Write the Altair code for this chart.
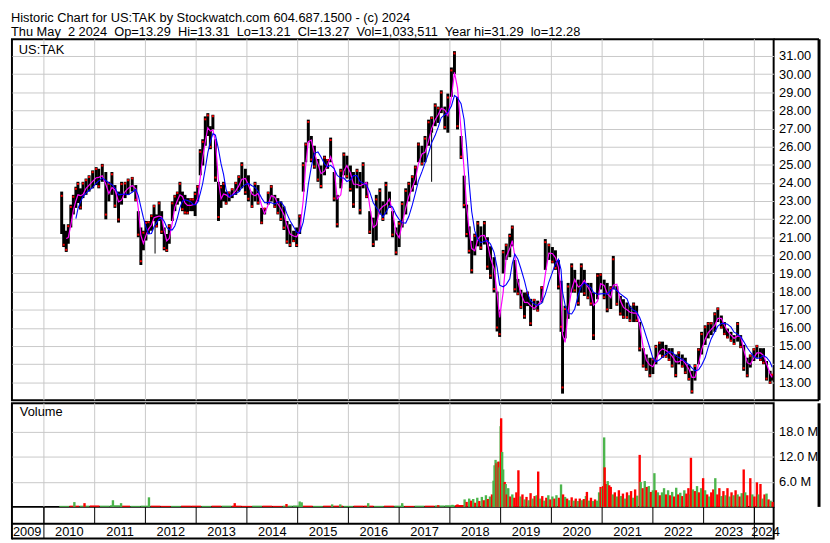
import altair as alt
import pandas as pd

# ---------------- data ----------------
t = [2010.35, 2010.39, 2010.44, 2010.48, 2010.53, 2010.58, 2010.63, 2010.67, 2010.72, 2010.77,
     2010.83, 2010.89, 2010.96, 2011.03, 2011.08, 2011.15, 2011.22, 2011.28, 2011.34, 2011.40,
     2011.47, 2011.53, 2011.60, 2011.66, 2011.74, 2011.81, 2011.86, 2011.91, 2011.96, 2012.01,
     2012.06, 2012.12, 2012.17, 2012.22, 2012.27, 2012.32, 2012.37, 2012.42, 2012.47, 2012.53,
     2012.58, 2012.63, 2012.68, 2012.73, 2012.78, 2012.83, 2012.89, 2012.94, 2012.98, 2013.03,
     2013.08, 2013.13, 2013.18, 2013.23, 2013.28, 2013.33, 2013.38, 2013.44, 2013.49, 2013.54,
     2013.59, 2013.65, 2013.71, 2013.78, 2013.84, 2013.90, 2013.97, 2014.03, 2014.10, 2014.16,
     2014.22, 2014.29, 2014.35, 2014.42, 2014.48, 2014.55, 2014.61, 2014.67, 2014.73, 2014.79,
     2014.85, 2014.92, 2014.98, 2015.04, 2015.11, 2015.16, 2015.21, 2015.27, 2015.33, 2015.40,
     2015.46, 2015.53, 2015.59, 2015.65, 2015.72, 2015.78, 2015.85, 2015.91, 2015.97, 2016.04,
     2016.10, 2016.17, 2016.23, 2016.29, 2016.36, 2016.42, 2016.49, 2016.55, 2016.62, 2016.68,
     2016.74, 2016.81, 2016.87, 2016.94, 2017.00, 2017.06, 2017.13, 2017.19, 2017.26, 2017.32,
     2017.38, 2017.45, 2017.51, 2017.58, 2017.64, 2017.71, 2017.77, 2017.83, 2017.90, 2017.96,
     2018.03, 2018.09, 2018.15, 2018.22, 2018.28, 2018.33, 2018.38, 2018.43, 2018.49, 2018.55,
     2018.61, 2018.68, 2018.74, 2018.80, 2018.87, 2018.93, 2018.98, 2019.05, 2019.11, 2019.18,
     2019.23, 2019.28, 2019.34, 2019.40, 2019.47, 2019.53, 2019.59, 2019.66, 2019.73, 2019.81,
     2019.88, 2019.95, 2020.02, 2020.08, 2020.14, 2020.19, 2020.22, 2020.27, 2020.33, 2020.40,
     2020.46, 2020.53, 2020.59, 2020.65, 2020.72, 2020.78, 2020.83, 2020.91, 2020.97, 2021.04,
     2021.10, 2021.17, 2021.22, 2021.29, 2021.36, 2021.42, 2021.49, 2021.55, 2021.62, 2021.68,
     2021.74, 2021.81, 2021.87, 2021.94, 2022.00, 2022.06, 2022.13, 2022.19, 2022.26, 2022.32,
     2022.38, 2022.45, 2022.51, 2022.58, 2022.64, 2022.71, 2022.77, 2022.83, 2022.90, 2022.96,
     2023.03, 2023.09, 2023.15, 2023.22, 2023.28, 2023.35, 2023.41, 2023.47, 2023.54, 2023.60,
     2023.67, 2023.73, 2023.79, 2023.86, 2023.92, 2023.99, 2024.05, 2024.12, 2024.18, 2024.24,
     2024.31, 2024.35]

hi = [23.52, 21.72, 21.36, 21.72, 22.80, 23.34, 23.79, 24.06, 23.70, 24.06,
      24.24, 24.42, 24.69, 24.87, 24.78, 25.05, 24.60, 24.06, 24.60, 23.88,
      23.52, 24.06, 24.06, 24.24, 24.33, 23.88, 22.44, 21.54, 21.36, 21.90,
      21.90, 22.26, 22.80, 22.26, 22.98, 22.44, 21.54, 21.18, 21.72, 22.98,
      23.34, 23.52, 24.06, 23.52, 23.34, 23.16, 23.16, 23.16, 23.52, 23.88,
      25.86, 26.41, 27.67, 27.85, 27.13, 27.76, 26.41, 24.06, 23.88, 24.06,
      23.52, 23.52, 23.70, 24.06, 24.42, 25.14, 24.78, 24.42, 23.52, 24.06,
      23.88, 22.62, 22.62, 23.52, 23.88, 23.34, 23.16, 22.98, 22.70, 21.90,
      21.72, 21.36, 21.54, 22.26, 25.14, 26.23, 27.49, 26.59, 26.05, 25.32,
      24.96, 25.50, 25.32, 26.50, 24.60, 23.34, 24.78, 25.68, 25.50, 24.96,
      24.60, 24.78, 24.60, 25.14, 24.06, 22.44, 22.08, 23.34, 23.70, 22.98,
      24.06, 23.52, 22.44, 21.54, 21.90, 22.98, 23.70, 24.06, 24.42, 24.96,
      26.23, 26.05, 26.59, 27.49, 27.67, 28.39, 28.21, 29.11, 28.21, 28.93,
      30.37, 31.27, 28.75, 26.59, 24.40, 22.80, 21.60, 20.80, 21.20, 21.90,
      21.60, 21.90, 21.00, 20.50, 19.90, 18.00, 17.00, 20.30, 20.65, 21.20,
      21.65, 19.75, 18.70, 18.10, 17.95, 18.00, 17.60, 17.60, 17.50, 18.30,
      20.90, 20.65, 20.46, 20.28, 19.74, 18.60, 15.78, 17.22, 18.48, 19.56,
      19.20, 18.66, 19.56, 19.20, 18.48, 18.48, 17.94, 19.02, 19.02, 18.66,
      18.48, 18.30, 19.97, 18.30, 17.76, 17.58, 17.40, 17.22, 17.40, 17.22,
      16.32, 14.88, 14.53, 14.35, 14.35, 15.06, 15.24, 15.24, 15.06, 14.88,
      14.88, 14.53, 14.70, 14.53, 14.35, 13.99, 13.63, 13.99, 14.88, 15.78,
      16.14, 16.32, 16.32, 16.86, 17.13, 16.68, 16.32, 15.96, 15.78, 15.60,
      16.32, 15.60, 15.06, 14.35, 14.53, 14.88, 15.06, 14.88, 14.88, 14.17,
      13.63, 13.45]

lo = [21.18, 20.46, 20.19, 20.64, 21.54, 22.26, 22.62, 22.89, 22.53, 23.16,
      23.34, 23.52, 23.70, 23.88, 23.70, 24.06, 21.99, 22.98, 23.34, 22.62,
      21.81, 22.80, 23.16, 23.34, 23.52, 22.98, 21.00, 19.47, 20.28, 20.82,
      21.18, 21.36, 21.90, 21.54, 21.90, 21.18, 20.28, 20.19, 20.64, 21.90,
      22.44, 22.80, 22.98, 22.44, 22.26, 22.26, 22.44, 22.44, 22.17, 22.98,
      24.42, 24.96, 26.05, 26.59, 25.86, 26.95, 24.06, 21.90, 22.62, 22.98,
      22.80, 22.98, 23.16, 23.34, 23.52, 23.70, 23.34, 22.98, 22.62, 22.98,
      22.80, 21.72, 22.26, 22.80, 22.98, 22.62, 22.26, 21.90, 21.40, 20.64,
      20.46, 20.73, 20.46, 21.18, 23.52, 25.14, 26.23, 25.14, 24.78, 24.06,
      23.70, 24.42, 24.78, 25.14, 22.98, 21.54, 23.70, 24.42, 24.24, 23.52,
      22.62, 23.70, 22.26, 23.70, 23.16, 21.18, 20.46, 20.82, 22.26, 21.90,
      22.26, 22.62, 21.00, 20.01, 20.46, 21.54, 22.26, 22.98, 23.52, 23.88,
      25.14, 24.96, 25.14, 26.05, 26.77, 27.13, 27.31, 27.85, 26.95, 26.77,
      28.75, 30.01, 26.95, 25.32, 22.60, 21.00, 20.10, 19.00, 20.00, 20.50,
      20.30, 20.60, 19.20, 18.70, 17.95, 15.80, 15.50, 19.00, 19.75, 19.90,
      20.50, 17.95, 17.80, 17.05, 16.50, 17.20, 16.10, 17.00, 16.90, 17.40,
      19.20, 19.75, 19.56, 19.20, 18.12, 15.78, 12.37, 15.42, 16.50, 17.94,
      17.94, 17.22, 17.94, 17.76, 17.58, 17.22, 15.33, 17.58, 18.12, 17.58,
      16.86, 17.04, 18.12, 17.22, 16.68, 16.50, 16.50, 16.32, 16.32, 16.32,
      14.70, 13.81, 13.63, 13.27, 13.45, 13.99, 14.53, 14.35, 14.35, 14.17,
      13.81, 13.27, 13.99, 13.81, 13.45, 13.09, 12.37, 13.09, 13.99, 14.53,
      15.06, 15.42, 15.60, 15.78, 16.32, 15.96, 15.60, 15.42, 15.24, 15.06,
      15.24, 14.88, 13.63, 13.27, 13.81, 14.17, 14.35, 14.17, 13.99, 13.09,
      12.91, 13.09]

spike_t = [2012.19, 2017.64]
spike_hi = [22.26, 26.77]
spike_lo = [20.10, 24.06]

# daily-volume envelope, millions (1 = up day, 0 = down day)
vol_t = [2010.60, 2010.80, 2011.36, 2011.52, 2012.07, 2013.76, 2014.78, 2015.04, 2015.08, 2015.68,
         2015.84, 2016.39, 2017.06, 2017.77, 2018.05, 2018.15,
         2018.29, 2018.33, 2018.38, 2018.42, 2018.46, 2018.50, 2018.54, 2018.58, 2018.63, 2018.67,
         2018.71, 2018.75, 2018.79, 2018.83, 2018.86, 2018.88, 2018.90, 2018.92, 2018.94, 2018.96,
         2018.98, 2019.00, 2019.01, 2019.03, 2019.05, 2019.08, 2019.10, 2019.12, 2019.15, 2019.19,
         2019.23, 2019.27, 2019.31, 2019.35, 2019.39, 2019.43, 2019.47, 2019.51, 2019.55, 2019.59,
         2019.63, 2019.67, 2019.71, 2019.74, 2019.78, 2019.82, 2019.86, 2019.90, 2019.94, 2019.98,
         2020.02, 2020.06, 2020.10, 2020.15, 2020.19, 2020.23, 2020.27, 2020.31, 2020.35, 2020.40,
         2020.44, 2020.48, 2020.52, 2020.56, 2020.60, 2020.64, 2020.68, 2020.70, 2020.74, 2020.78,
         2020.82, 2020.86, 2020.90, 2020.94, 2020.97, 2021.00, 2021.02, 2021.04, 2021.05, 2021.08,
         2021.11, 2021.14, 2021.17, 2021.21, 2021.25, 2021.29, 2021.33, 2021.37, 2021.41, 2021.45,
         2021.49, 2021.53, 2021.57, 2021.61, 2021.65, 2021.69, 2021.74, 2021.76, 2021.80, 2021.84,
         2021.88, 2021.92, 2021.96, 2022.00, 2022.03, 2022.06, 2022.10, 2022.14, 2022.18, 2022.22,
         2022.26, 2022.30, 2022.34, 2022.38, 2022.42, 2022.46, 2022.50, 2022.54, 2022.58, 2022.62,
         2022.66, 2022.70, 2022.73, 2022.75, 2022.79, 2022.83, 2022.87, 2022.91, 2022.95, 2022.99,
         2023.03, 2023.07, 2023.11, 2023.15, 2023.19, 2023.23, 2023.27, 2023.31, 2023.35, 2023.39,
         2023.43, 2023.47, 2023.51, 2023.55, 2023.59, 2023.63, 2023.67, 2023.71, 2023.75, 2023.79,
         2023.82, 2023.86, 2023.92, 2023.96, 2024.00, 2024.05, 2024.08, 2024.12, 2024.16, 2024.20,
         2024.24, 2024.28, 2024.32, 2024.36]
vol_m = [1.15, 0.9, 1.6, 0.9, 2.3, 0.9, 0.7, 1.3, 1.1, 0.6,
         0.6, 0.9, 0.9, 0.4, 0.5, 0.6,
         1.8, 1.2, 2.0, 1.5, 1.9, 1.0, 2.2, 1.4, 2.4, 1.6,
         2.8, 1.9, 2.5, 3.0, 6.3, 10.0, 11.3, 10.5, 10.8, 10.9,
         9.5, 19.4, 21.3, 13.2, 9.0, 6.0, 5.5, 3.0, 4.5, 2.5,
         3.0, 2.2, 3.5, 8.8, 2.5, 3.0, 1.8, 2.4, 1.6, 3.3,
         2.0, 2.6, 2.8, 8.5, 2.0, 2.6, 1.5, 2.2, 2.8, 1.8,
         2.5, 2.0, 2.8, 2.2, 5.4, 3.0, 2.4, 2.0, 1.6, 2.3,
         1.5, 2.0, 1.4, 2.0, 1.6, 1.9, 2.6, 3.6, 1.5, 2.2,
         1.4, 1.8, 1.5, 3.5, 4.8, 4.5, 5.0, 16.7, 9.5, 5.5,
         6.2, 5.2, 4.8, 3.0, 3.5, 2.5, 4.0, 2.6, 3.2, 2.0,
         3.5, 2.8, 3.8, 2.2, 4.2, 2.7, 12.5, 6.0, 4.5, 6.2,
         4.8, 5.0, 3.6, 4.0, 8.1, 4.0, 3.5, 2.8, 3.5, 4.5,
         3.0, 4.0, 2.8, 3.6, 2.5, 4.6, 3.0, 3.4, 2.6, 4.0,
         3.2, 4.5, 3.0, 11.8, 4.2, 3.8, 5.0, 3.5, 4.5, 6.9,
         4.0, 3.0, 2.5, 3.5, 4.2, 6.9, 3.0, 4.5, 2.6, 3.8,
         2.8, 4.5, 2.5, 3.5, 2.8, 4.0, 3.0, 2.5, 3.3, 9.0,
         3.5, 2.8, 6.9, 3.0, 2.5, 5.9, 3.0, 5.5, 2.0, 3.0,
         3.2, 1.8, 1.5, 1.2]
vol_up = [1, 0, 1, 1, 1, 0, 0, 1, 1, 1,
          1, 1, 1, 0, 1, 0,
          1, 0, 1, 0, 1, 0, 1, 0, 1, 0,
          1, 0, 1, 0, 1, 1, 1, 0, 1, 0,
          1, 1, 0, 1, 1, 0, 1, 0, 1, 0,
          1, 0, 0, 0, 1, 0, 1, 0, 1, 0,
          1, 0, 1, 0, 1, 0, 1, 0, 1, 0,
          1, 0, 1, 0, 1, 0, 1, 0, 1, 0,
          1, 0, 1, 0, 1, 0, 1, 0, 1, 0,
          1, 0, 1, 1, 0, 1, 0, 1, 0, 0,
          1, 0, 0, 1, 0, 1, 0, 1, 0, 1,
          0, 1, 0, 1, 0, 1, 0, 1, 0, 1,
          0, 1, 0, 1, 1, 0, 1, 0, 1, 1,
          0, 1, 0, 1, 0, 1, 0, 1, 0, 1,
          0, 0, 1, 0, 1, 0, 1, 0, 1, 0,
          1, 0, 1, 0, 0, 1, 0, 0, 1, 0,
          1, 0, 1, 0, 1, 0, 1, 0, 1, 0,
          1, 0, 0, 1, 0, 0, 1, 0, 1, 0,
          1, 0, 1, 0]

# thin low-volume baseline before the NYSE listing
base_t = [2010.4, 2010.6, 2010.8, 2011.0, 2011.2, 2011.4, 2011.6, 2011.8, 2012.0, 2012.2,
          2012.4, 2012.6, 2012.8, 2013.0, 2013.2, 2013.4, 2013.6, 2013.8, 2014.0, 2014.2,
          2014.4, 2014.6, 2014.8, 2015.0, 2015.2, 2015.4, 2015.6, 2015.8, 2016.0, 2016.2,
          2016.4, 2016.6, 2016.8, 2017.0, 2017.2, 2017.4, 2017.6, 2017.8, 2018.0, 2018.2]
base_m = [0.25, 0.3, 0.3, 0.35, 0.3, 0.4, 0.3, 0.25, 0.3, 0.3,
          0.25, 0.25, 0.3, 0.3, 0.25, 0.3, 0.3, 0.3, 0.25, 0.3,
          0.3, 0.25, 0.3, 0.35, 0.3, 0.25, 0.3, 0.3, 0.25, 0.3,
          0.3, 0.25, 0.3, 0.3, 0.25, 0.3, 0.3, 0.35, 0.4, 0.45]
base_up = [1, 0, 1, 0, 1, 1, 0, 1, 1, 0,
           0, 1, 0, 0, 1, 0, 1, 0, 0, 1,
           0, 0, 1, 1, 0, 1, 0, 0, 1, 0,
           0, 1, 0, 1, 0, 1, 0, 1, 1, 0]

price_ticks = list(range(13, 32))
vol_ticks = [6, 12, 18]
years = list(range(2010, 2025))
year_label_pos = [2009.67] + [y + 0.5 for y in range(2010, 2024)] + [2024.22]
year_labels = [str(y) for y in range(2009, 2025)]

header_line1 = "Historic Chart for US:TAK by Stockwatch.com 604.687.1500 - (c) 2024"
header_line2 = ("Thu May  2 2024  Op=13.29  Hi=13.31  Lo=13.21  Cl=13.27  Vol=1,033,511  "
                "Year hi=31.29  lo=12.28").replace("  ", "\u00a0 ")

# ---------------- tables ----------------
price = pd.DataFrame({"t": t, "hi": hi, "lo": lo})
spikes = pd.DataFrame({"t": spike_t, "hi": spike_hi, "lo": spike_lo})
vol = pd.DataFrame({"t": vol_t, "v": vol_m, "up": ["up" if u else "down" for u in vol_up]})
base = pd.DataFrame({"t": base_t, "v": base_m, "up": ["up" if u else "down" for u in base_up]})
yrs = pd.DataFrame({"yr": years})
edge_yrs = pd.DataFrame({"yr": [2010, 2024]})
labels = pd.DataFrame({"pos": year_label_pos, "lab": year_labels})
one = pd.DataFrame({"a": [0]})

# ---------------- layout ----------------
W, HA, HB = 772, 366, 105
RC = 46  # right axis column
FONT = "Liberation Sans"
GRID = "#c8c8c8"
GREEN = "#4cb54c"
xs = alt.Scale(domain=[2009.37, 2024.38], nice=False, zero=False)
ys = alt.Scale(domain=[12.0, 31.93], nice=False, zero=False)
vs = alt.Scale(domain=[0, 24.9], nice=False, zero=False)
X = lambda f: alt.X(f, type="quantitative", scale=xs, axis=None)

price_axis = alt.Axis(orient="right", values=price_ticks, format=".2f", grid=True, gridColor=GRID,
                      gridWidth=1, ticks=False, tickSize=0, domain=False, labelPadding=5,
                      labelOverlap=False, labelFont=FONT, labelFontSize=13, labelColor="black",
                      title=None)
vol_axis = alt.Axis(orient="right", values=vol_ticks, labelExpr="format(datum.value, '.1f') + ' M'",
                    grid=True, gridColor=GRID, gridWidth=1, ticks=False, tickSize=0, domain=False,
                    labelPadding=5, labelOverlap=False, labelFont=FONT, labelFontSize=13,
                    labelColor="black", title=None)


def label(text, x, y, baseline="top"):
    return alt.Chart(one).mark_text(align="left", baseline=baseline, font=FONT, fontSize=13,
                                    color="black").encode(x=alt.value(x), y=alt.value(y),
                                                          text=alt.value(text))


def hrule(x1, x2, y, w=2):
    return alt.Chart(one).mark_rule(color="black", strokeWidth=w).encode(
        x=alt.value(x1), x2=alt.value(x2), y=alt.value(y))


def vrule(x, y1, y2, w=2):
    return alt.Chart(one).mark_rule(color="black", strokeWidth=w).encode(
        x=alt.value(x), y=alt.value(y1), y2=alt.value(y2))


# ---- price panel ----
vgrid_a = alt.Chart(yrs).mark_rule(color=GRID, strokeWidth=1).encode(x=X("yr"))
bars = alt.Chart(price).mark_rule(color="black", strokeWidth=3).encode(
    x=X("t"), y=alt.Y("lo:Q", scale=ys, axis=price_axis), y2="hi:Q")
spk = alt.Chart(spikes).mark_rule(color="black", strokeWidth=1).encode(
    x=X("t"), y=alt.Y("lo:Q", scale=ys, axis=price_axis), y2="hi:Q")

derived = (alt.Chart(price)
           .transform_calculate(mid="(datum.hi + datum.lo) / 2")
           .transform_window(ma1="mean(mid)", frame=[-1, 0], sort=[alt.SortField("t")])
           .transform_window(ma2="mean(mid)", frame=[-4, 0], sort=[alt.SortField("t")])
           .transform_window(prev="lag(mid)", rn="row_number()", sort=[alt.SortField("t")]))

reds = (derived
        .transform_calculate(cl="datum.mid < datum.prev ? datum.lo + 0.1 * (datum.hi - datum.lo) : datum.hi - 0.1 * (datum.hi - datum.lo)")
        .mark_square(size=4, color="#ff0000", opacity=1)
        .encode(x=X("t"), y=alt.Y("cl:Q", scale=ys, axis=price_axis)))
mag = (derived.transform_filter("datum.rn > 2")
       .mark_line(color="#ff00ff", strokeWidth=1.2)
       .encode(x=X("t"), y=alt.Y("ma1:Q", scale=ys, axis=price_axis)))
blu = (derived.transform_filter("datum.rn > 6")
       .mark_line(color="#0000ff", strokeWidth=1.1)
       .encode(x=X("t"), y=alt.Y("ma2:Q", scale=ys, axis=price_axis)))

panel_a = (alt.layer(
    vgrid_a, bars, spk, reds, mag, blu,
    label("US:TAK", 7, 5),
    label(header_line1, -1, -17, "alphabetic"),
    label(header_line2, -1, -3, "alphabetic"),
    hrule(W, W + RC, 0), hrule(W, W + RC, HA), vrule(W + RC, 0, HA, 3),
).properties(width=W, height=HA))

# ---- volume panel + date axis ----
vgrid_b = alt.Chart(yrs).mark_rule(color=GRID, strokeWidth=1).encode(x=X("yr"))
color = alt.Color("up:N", scale=alt.Scale(domain=["down", "up"], range=["#ff0000", GREEN]), legend=None)
base_bars = alt.Chart(base).transform_calculate(z="0").mark_rule(strokeWidth=10).encode(
    x=X("t"), y=alt.Y("v:Q", scale=vs, axis=vol_axis), y2="z:Q", color=color)
vol_bars = alt.Chart(vol).transform_calculate(z="0").mark_rule(strokeWidth=2.4).encode(
    x=X("t"), y=alt.Y("v:Q", scale=vs, axis=vol_axis), y2="z:Q", color=color)
tick_rules = alt.Chart(yrs).mark_rule(color="black", strokeWidth=1).encode(
    x=X("yr"), y=alt.value(HB), y2=alt.value(HB + 17))
edge_rules = alt.Chart(edge_yrs).mark_rule(color="black", strokeWidth=1).encode(
    x=X("yr"), y=alt.value(HB), y2=alt.value(HB + 32))
year_text = alt.Chart(labels).mark_text(align="center", baseline="middle", font=FONT, fontSize=13,
                                        color="black").encode(
    x=X("pos"), y=alt.value(HB + 25), text="lab:N")
panel_b = (alt.layer(
    vgrid_b, base_bars, vol_bars, label("Volume", 8, 3),
    tick_rules, edge_rules,
    hrule(0, W, HB + 17), hrule(0, W, HB + 32),
    vrule(0, HB, HB + 33), vrule(W, HB, HB + 33), vrule(W + RC, 0, HB, 3),
    year_text,
).properties(width=W, height=HB))

chart = (alt.vconcat(panel_a, panel_b, spacing=3, bounds="flush")
         .properties(padding={"left": 2, "top": 0, "right": 0, "bottom": 0})
         .configure_view(stroke="black", strokeWidth=2)
         .configure_axis(labelOverlap=False, labelBound=False, labelFlush=False))

chart.save("out.html", embed_options={"renderer": "svg", "actions": False})
